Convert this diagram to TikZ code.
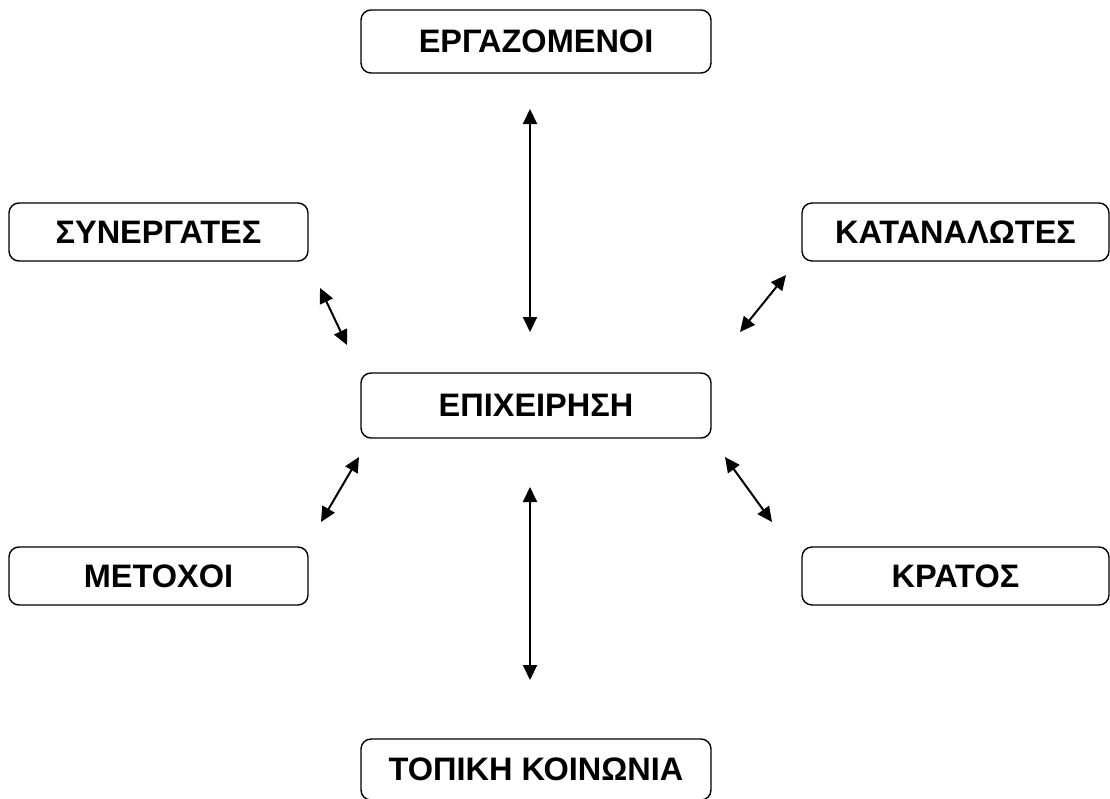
\documentclass[tikz,border=0pt]{standalone}
\usepackage{fontspec}
\setmainfont{Liberation Sans}
\usetikzlibrary{arrows.meta}
\begin{document}
\begin{tikzpicture}[x=1pt,y=-1pt,
  box/.style={draw=black,line width=1.4pt,rounded corners=10pt,inner sep=0pt,
    font=\fontsize{32.5}{39}\selectfont\bfseries,text=black},
  arr/.style={line width=2pt,{Triangle[length=15pt,width=14pt]}-{Triangle[length=15pt,width=14pt]}}]
\useasboundingbox (0,0) rectangle (1110,798);
\node[box,minimum width=350pt,minimum height=63pt] (erg) at (536,41.5) {ΕΡΓΑΖΟΜΕΝΟΙ};
\node[box,minimum width=299pt,minimum height=58pt] (syn) at (158.5,232) {ΣΥΝΕΡΓΑΤΕΣ};
\node[box,minimum width=307pt,minimum height=58pt] (kat) at (955.5,232) {ΚΑΤΑΝΑΛΩΤΕΣ};
\node[box,minimum width=350pt,minimum height=65pt] (epi) at (536,405.5) {ΕΠΙΧΕΙΡΗΣΗ};
\node[box,minimum width=299pt,minimum height=58pt] (met) at (158.5,576) {ΜΕΤΟΧΟΙ};
\node[box,minimum width=307pt,minimum height=58pt] (kra) at (955.5,576) {ΚΡΑΤΟΣ};
\node[box,minimum width=350pt,minimum height=61pt] (top) at (536,769.5) {ΤΟΠΙΚΗ ΚΟΙΝΩΝΙΑ};
\coordinate (a1s) at (530,109);
\coordinate (a1e) at (530,332);
\coordinate (a2s) at (530,487);
\coordinate (a2e) at (530,680);
\coordinate (a3s) at (320,288);
\coordinate (a3e) at (347,345);
\coordinate (a4s) at (786,275);
\coordinate (a4e) at (740,332);
\coordinate (a5s) at (359,457);
\coordinate (a5e) at (321,522);
\coordinate (a6s) at (725,457);
\coordinate (a6e) at (772,522);
\draw[arr] (a1s) -- (a1e);
\draw[arr] (a2s) -- (a2e);
\draw[arr] (a3s) -- (a3e);
\draw[arr] (a4s) -- (a4e);
\draw[arr] (a5s) -- (a5e);
\draw[arr] (a6s) -- (a6e);
\end{tikzpicture}
\end{document}
